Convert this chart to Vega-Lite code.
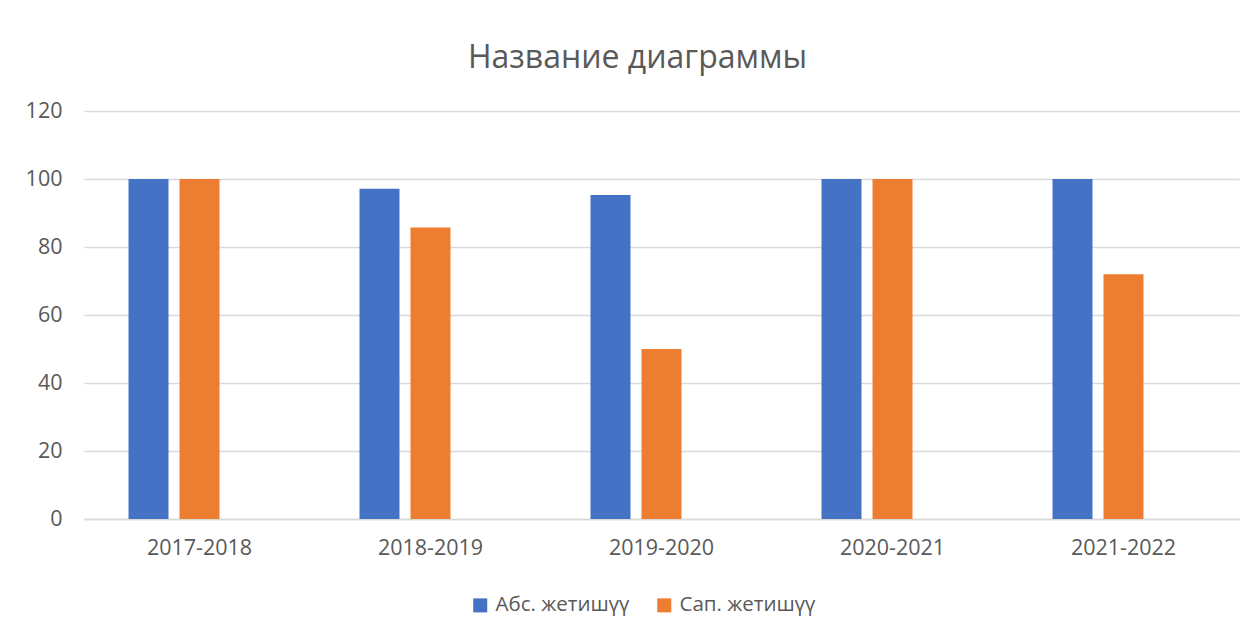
{
  "$schema": "https://vega.github.io/schema/vega-lite/v6.json",
  "autosize": "none",
  "width": 1155,
  "height": 408,
  "padding": {"left": 84, "top": 111, "right": 19, "bottom": 115},
  "background": "#ffffff",
  "config": {
    "font": "Open Sans",
    "view": {"stroke": null},
    "axis": {"labelFont": "Open Sans", "labelColor": "#595959", "titleColor": "#595959"}
  },
  "title": {
    "text": "Название диаграммы",
    "font": "Open Sans",
    "fontSize": 32,
    "fontWeight": "normal",
    "color": "#595959",
    "anchor": "middle",
    "dx": -24,
    "offset": 25
  },
  "data": {
    "values": [
      {"year": "2017-2018", "series": "Абс. жетишүү", "value": 100},
      {"year": "2017-2018", "series": "Сап. жетишүү", "value": 100},
      {"year": "2018-2019", "series": "Абс. жетишүү", "value": 97.1},
      {"year": "2018-2019", "series": "Сап. жетишүү", "value": 85.7},
      {"year": "2019-2020", "series": "Абс. жетишүү", "value": 95.3},
      {"year": "2019-2020", "series": "Сап. жетишүү", "value": 50},
      {"year": "2020-2021", "series": "Абс. жетишүү", "value": 100},
      {"year": "2020-2021", "series": "Сап. жетишүү", "value": 100},
      {"year": "2021-2022", "series": "Абс. жетишүү", "value": 100},
      {"year": "2021-2022", "series": "Сап. жетишүү", "value": 72}
    ]
  },
  "mark": {"type": "bar"},
  "encoding": {
    "x": {
      "field": "year",
      "type": "nominal",
      "sort": null,
      "scale": {"paddingInner": 0, "paddingOuter": 0},
      "axis": {
        "title": null,
        "labelAngle": 0,
        "labelFontSize": 21.5,
        "labelPadding": 18,
        "ticks": false,
        "domain": true,
        "domainColor": "#D9D9D9",
        "domainWidth": 1.3,
        "grid": false
      }
    },
    "xOffset": {
      "field": "series",
      "type": "nominal",
      "scale": {
        "domain": ["Абс. жетишүү", "Сап. жетишүү", "—"],
        "paddingInner": 0.216,
        "paddingOuter": 0.873
      }
    },
    "y": {
      "field": "value",
      "type": "quantitative",
      "scale": {"domain": [0, 120], "nice": false},
      "axis": {
        "title": null,
        "values": [0, 20, 40, 60, 80, 100, 120],
        "labelFontSize": 21.5,
        "labelPadding": 22,
        "ticks": false,
        "domain": false,
        "grid": true,
        "gridColor": "#D9D9D9",
        "gridWidth": 1.3
      }
    },
    "color": {
      "field": "series",
      "type": "nominal",
      "scale": {
        "domain": ["Абс. жетишүү", "Сап. жетишүү"],
        "range": ["#4472C4", "#ED7D31"]
      },
      "legend": {
        "title": null,
        "orient": "none",
        "direction": "horizontal",
        "legendX": 386,
        "legendY": 484,
        "symbolType": "square",
        "symbolSize": 196,
        "symbolStrokeWidth": 0,
        "labelFont": "Open Sans",
        "labelFontSize": 20.5,
        "labelColor": "#595959",
        "labelOffset": 5,
        "columnPadding": 24,
        "padding": 0
      }
    }
  }
}
